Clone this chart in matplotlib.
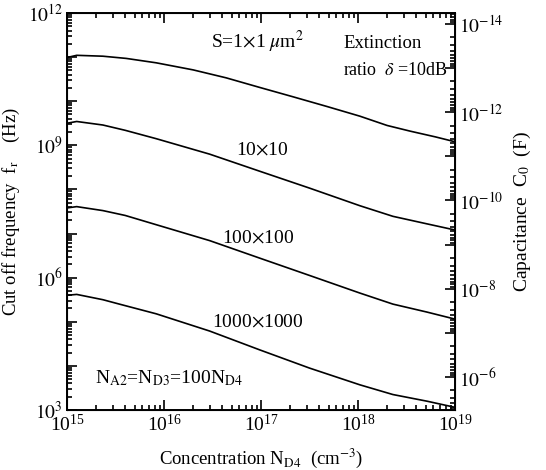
import numpy as np
import matplotlib.pyplot as plt
from matplotlib.ticker import LogLocator, FuncFormatter, NullFormatter

plt.rcParams['font.family'] = 'Liberation Serif'
plt.rcParams['mathtext.fontset'] = 'stix'

# log10 of concentration N_D4 (cm^-3) and of cut-off frequency (Hz)
x1 = [15.00, 15.10, 15.37, 15.61, 15.92, 16.30, 16.64, 16.99, 17.33, 17.68, 18.02, 18.30, 18.54, 18.80, 19.00]
f1 = [10.99, 11.04, 11.02, 10.97, 10.87, 10.71, 10.53, 10.31, 10.10, 9.88, 9.66, 9.45, 9.32, 9.19, 9.08]

x2 = [15.00, 15.10, 15.37, 15.60, 15.92, 16.47, 16.99, 17.50, 18.02, 18.36, 18.71, 19.00]
f2 = [9.50, 9.54, 9.46, 9.34, 9.15, 8.80, 8.41, 8.03, 7.63, 7.39, 7.22, 7.08]

x3 = [15.00, 15.10, 15.37, 15.60, 15.92, 16.47, 16.99, 17.50, 18.02, 18.36, 18.71, 19.00]
f3 = [7.58, 7.61, 7.52, 7.41, 7.20, 6.84, 6.44, 6.05, 5.65, 5.40, 5.22, 5.06]

x4 = [15.00, 15.10, 15.37, 15.54, 15.92, 16.47, 16.99, 17.50, 18.02, 18.36, 18.71, 19.00]
f4 = [5.60, 5.62, 5.50, 5.40, 5.18, 4.79, 4.36, 3.95, 3.57, 3.35, 3.20, 3.06]

curves = [(x1, f1), (x2, f2), (x3, f3), (x4, f4)]

fig = plt.figure(figsize=(5.46, 4.70), dpi=100)
ax = fig.add_axes([0.1227, 0.1277, 0.7106, 0.8447])

for xs, fs in curves:
    ax.plot(10 ** np.array(xs), 10 ** np.array(fs), color='black', lw=1.2)

ax.set_xscale('log')
ax.set_yscale('log')
ax.set_xlim(1e15, 1e19)
ax.set_ylim(1e3, 1e12)

ax.xaxis.set_major_locator(LogLocator(base=10, numticks=10))
ax.xaxis.set_minor_locator(LogLocator(base=10, subs=np.arange(2, 10), numticks=10))
ax.xaxis.set_minor_formatter(NullFormatter())
ax.yaxis.set_major_locator(LogLocator(base=10, numticks=15))
ax.yaxis.set_minor_locator(LogLocator(base=10, subs=np.arange(2, 10), numticks=15))
ax.yaxis.set_minor_formatter(NullFormatter())


def left_fmt(v, pos):
    e = int(round(np.log10(v)))
    return r'$10^{%d}$' % e if e % 3 == 0 else ''


ax.yaxis.set_major_formatter(FuncFormatter(left_fmt))
ax.tick_params(which='both', direction='in', top=True, labelsize=14, width=1.2)
ax.tick_params(which='major', length=7, pad=3)
ax.tick_params(which='minor', length=3.5)
for s in ax.spines.values():
    s.set_linewidth(1.4)

ax2 = ax.twinx()
ax2.set_yscale('log')
ax2.set_ylim(10 ** -5.25, 10 ** -14.25)
ax2.yaxis.set_major_locator(LogLocator(base=10, numticks=15))
ax2.yaxis.set_minor_locator(LogLocator(base=10, subs=np.arange(2, 10), numticks=15))
ax2.yaxis.set_minor_formatter(NullFormatter())


def right_fmt(v, pos):
    e = int(round(np.log10(v)))
    return r'$10^{%d}$' % e if e % 2 == 0 else ''


ax2.yaxis.set_major_formatter(FuncFormatter(right_fmt))
ax2.tick_params(which='both', direction='in', labelsize=14, width=1.2)
ax2.tick_params(which='major', length=7, pad=3)
ax2.tick_params(which='minor', length=3.5)

ax.set_xlabel(r'Concentration N$_{\rm D4}$  (cm$^{-3}$)', fontsize=13.5, labelpad=8)
ax.set_ylabel(r'Cut off frequency  f$_{\rm r}$    (Hz)', fontsize=13.5, labelpad=4)
ax2.set_ylabel(r'Capacitance  C$_0$  (F)', fontsize=14, labelpad=6)

ax.text(0.492, 0.927, r'S=1$\times$1 $\mu$m$^2$', transform=ax.transAxes,
        ha='center', va='center', fontsize=14)
ax.text(0.712, 0.922, 'Extinction', transform=ax.transAxes,
        ha='left', va='center', fontsize=13.5)
ax.text(0.712, 0.856, r'ratio  $\delta$ =10dB', transform=ax.transAxes,
        ha='left', va='center', fontsize=13)
ax.text(0.503, 0.655, r'10$\times$10', transform=ax.transAxes,
        ha='center', va='center', fontsize=14)
ax.text(0.492, 0.433, r'100$\times$100', transform=ax.transAxes,
        ha='center', va='center', fontsize=14)
ax.text(0.492, 0.222, r'1000$\times$1000', transform=ax.transAxes,
        ha='center', va='center', fontsize=14)
ax.text(0.072, 0.081, r'N$_{\rm A2}$=N$_{\rm D3}$=100N$_{\rm D4}$', transform=ax.transAxes,
        ha='left', va='center', fontsize=14)

fig.savefig('out.png', dpi=100)
